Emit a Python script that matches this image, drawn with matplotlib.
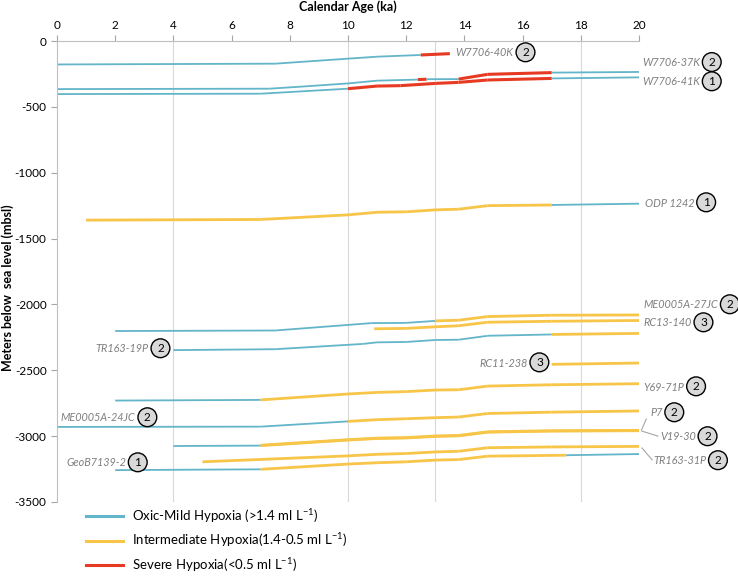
import matplotlib
matplotlib.use("Agg")
import matplotlib.pyplot as plt
from matplotlib.lines import Line2D

plt.rcParams['font.family'] = ['Lato', 'DejaVu Sans']
plt.rcParams['axes.unicode_minus'] = False

# hypoxia classes: O = oxic-mild, I = intermediate, S = severe
COLORS = {'O': '#63b5c9', 'I': '#f7c548', 'S': '#e63b22'}
WIDTHS = {'O': 1.3, 'I': 2.0, 'S': 2.2}

# --- data: calendar age (ka), depth (m), class of each segment ---
w40k_age = [0, 7.5, 10, 11, 12.5, 13.5]
w40k_depth = [-178, -172, -134, -119, -106, -96]
w40k_cls = ['O', 'O', 'O', 'O', 'S']

w37k_age = [0, 7.3, 8.35, 10, 11, 12.4, 12.7, 13.8, 14.8, 17, 20]
w37k_depth = [-365, -362, -347, -322, -301, -293, -290, -289, -253, -240, -235]
w37k_cls = ['O', 'O', 'O', 'O', 'O', 'S', 'O', 'S', 'S', 'O']

w41k_age = [0, 7, 10, 11, 11.8, 13, 13.8, 14.8, 17, 20]
w41k_depth = [-403, -400, -362, -342, -339, -322, -314, -296, -284, -276]
w41k_cls = ['O', 'O', 'S', 'S', 'S', 'S', 'S', 'S', 'O']

odp_age = [1, 7, 10, 11, 12, 13, 13.8, 14.8, 17, 20]
odp_depth = [-1360, -1355, -1320, -1300, -1297, -1282, -1277, -1250, -1245, -1235]
odp_cls = ['I'] * 8 + ['O']

me27_age = [2, 7.5, 10.8, 12, 13, 13.8, 14.8, 17, 20]
me27_depth = [-2202, -2198, -2142, -2140, -2125, -2120, -2092, -2082, -2080]
me27_cls = ['O', 'O', 'O', 'O', 'I', 'I', 'I', 'I']

rc13_age = [10.9, 12, 13, 13.8, 14.8, 17, 20]
rc13_depth = [-2185, -2182, -2170, -2162, -2135, -2128, -2122]
rc13_cls = ['I'] * 6

tr19_age = [4, 7.5, 10.5, 11, 12, 13, 13.8, 14.8, 17, 20]
tr19_depth = [-2347, -2340, -2300, -2288, -2285, -2270, -2268, -2238, -2228, -2220]
tr19_cls = ['O'] * 8 + ['I']

rc11_age = [17, 20]
rc11_depth = [-2455, -2445]
rc11_cls = ['I']

y69_age = [2, 7, 10, 11, 12, 13, 13.8, 14.8, 17, 20]
y69_depth = [-2730, -2725, -2680, -2668, -2662, -2650, -2648, -2620, -2610, -2602]
y69_cls = ['O'] + ['I'] * 8

me24_age = [0, 7, 10, 11, 12, 13, 13.8, 14.8, 17, 20]
me24_depth = [-2930, -2928, -2888, -2875, -2868, -2860, -2855, -2828, -2818, -2809]
me24_cls = ['O', 'O'] + ['I'] * 7

v19_age = [4, 7, 10, 11, 12, 13, 13.8, 14.8, 17, 20]
v19_depth = [-3075, -3072, -3030, -3018, -3014, -3002, -2998, -2970, -2962, -2959]
v19_cls = ['O'] + ['I'] * 8

p7_age = [7, 10, 11, 12, 13, 13.8, 14.8, 17, 20]
p7_depth = [-3069, -3027, -3015, -3011, -2999, -2995, -2967, -2959, -2956]
p7_cls = ['I'] * 8

tr31_age = [5, 10, 11, 12, 13, 13.8, 14.8, 17, 20]
tr31_depth = [-3195, -3150, -3138, -3132, -3120, -3115, -3088, -3082, -3078]
tr31_cls = ['I'] * 8

geo_age = [2, 7, 10, 11, 12, 13, 13.8, 14.8, 17.5, 20]
geo_depth = [-3258, -3252, -3212, -3202, -3195, -3182, -3178, -3152, -3145, -3136]
geo_cls = ['O'] + ['I'] * 7 + ['O']

cores = [
    (w40k_age, w40k_depth, w40k_cls),
    (w37k_age, w37k_depth, w37k_cls),
    (w41k_age, w41k_depth, w41k_cls),
    (odp_age, odp_depth, odp_cls),
    (me27_age, me27_depth, me27_cls),
    (rc13_age, rc13_depth, rc13_cls),
    (tr19_age, tr19_depth, tr19_cls),
    (rc11_age, rc11_depth, rc11_cls),
    (y69_age, y69_depth, y69_cls),
    (me24_age, me24_depth, me24_cls),
    (v19_age, v19_depth, v19_cls),
    (p7_age, p7_depth, p7_cls),
    (tr31_age, tr31_depth, tr31_cls),
    (geo_age, geo_depth, geo_cls),
]

# core labels: name, number, text x, text y, alignment
labels = [
    ("W7706-40K", "2", 13.7, -91, 'left'),
    ("W7706-37K", "2", 20.1, -165, 'left'),
    ("W7706-41K", "1", 20.1, -311, 'left'),
    ("ODP 1242", "1", 20.2, -1230, 'left'),
    ("ME0005A-27JC", "2", 20.15, -2004, 'left'),
    ("RC13-140", "3", 20.15, -2141, 'left'),
    ("TR163-19P", "2", 3.15, -2338, 'right'),
    ("RC11-238", "3", 16.17, -2445, 'right'),
    ("Y69-71P", "2", 20.15, -2627, 'left'),
    ("ME0005A-24JC", "2", 2.7, -2862, 'right'),
    ("P7", "2", 20.38, -2824, 'left'),
    ("V19-30", "2", 20.72, -3006, 'left'),
    ("TR163-31P", "2", 20.48, -3188, 'left'),
    ("GeoB7139-2", "1", 2.37, -3204, 'right'),
]

fig = plt.figure(figsize=(7.38, 5.76), dpi=100)
ax = fig.add_axes([0.0772, 0.1285, 0.7887, 0.8003])

for x in [4, 10, 13, 18]:
    ax.plot([x, x], [0, -3500], color='#d9d9d9', lw=0.8, zorder=0)

for ages, depths, cls in cores:
    for i, c in enumerate(cls):
        ax.plot(ages[i:i + 2], depths[i:i + 2], color=COLORS[c], lw=WIDTHS[c],
                solid_capstyle='butt', zorder=2)

gray = '#7f7f7f'
for name, num, tx, ty, ha in labels:
    t = ax.text(tx, ty, name, ha=ha, va='center', fontsize=7.8, style='italic',
                color=gray, clip_on=False)
    ax.annotate(num, xy=(1, 0.5), xycoords=t, xytext=(8.5, 0.5),
                textcoords='offset points', ha='center', va='center',
                fontsize=8.5, color='black', annotation_clip=False,
                bbox=dict(boxstyle='circle,pad=0.33', fc='#d9d9d9', ec='black', lw=1))

# leader lines
for xs, ys in [([20.25, 20.08], [-2870, -2955]),
               ([20.1, 20.65], [-2962, -3000]),
               ([20.1, 20.45], [-3090, -3180])]:
    ax.plot(xs, ys, color='#a6a6a6', lw=0.8, clip_on=False)

ax.set_xlim(0, 20)
ax.set_ylim(-3500, 0)
ax.set_xticks(range(0, 21, 2))
ax.set_yticks(range(-3500, 1, 500))
ax.xaxis.tick_top()
ax.xaxis.set_label_position('top')
ax.tick_params(axis='both', colors='#a6a6a6', labelcolor='black', labelsize=8.5,
               length=4, width=0.8)
for s in ['right', 'bottom']:
    ax.spines[s].set_visible(False)
for s in ['top', 'left']:
    ax.spines[s].set_color('#bfbfbf')
ax.set_xlabel("Calendar Age (ka)", fontsize=9, fontweight='bold', labelpad=6)
fig.text(0.011, 0.5, "Meters below  sea level (mbsl)", rotation=90, ha='center',
         va='center', fontsize=9, fontweight='bold')

handles = [Line2D([], [], color=COLORS['O'], lw=2.2),
           Line2D([], [], color=COLORS['I'], lw=2.2),
           Line2D([], [], color=COLORS['S'], lw=2.2)]
names = [r"Oxic-Mild Hypoxia (>1.4 ml L$^{\mathdefault{-1}}$)",
         r"Intermediate Hypoxia(1.4-0.5 ml L$^{\mathdefault{-1}}$)",
         r"Severe Hypoxia(<0.5 ml L$^{\mathdefault{-1}}$)"]
fig.legend(handles, names, loc='upper left', bbox_to_anchor=(0.116, 0.12),
           frameon=False, fontsize=9.5, handlelength=2.8, labelspacing=0.5,
           handletextpad=0.75, borderaxespad=0, borderpad=0)

fig.savefig("out.png", dpi=100)
